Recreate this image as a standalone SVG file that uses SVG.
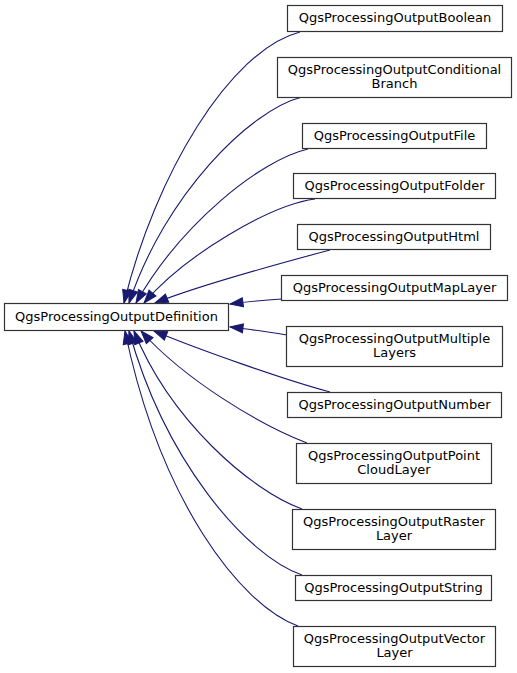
<svg xmlns="http://www.w3.org/2000/svg" width="517" height="673" viewBox="0 0 517 673">
<style>
.n rect{fill:#ffffff;stroke:#333333;stroke-width:1.2}
.n text{font-family:"DejaVu Sans",sans-serif;font-size:13px;fill:#000000;text-anchor:middle}
.e path{fill:none;stroke:#191970;stroke-width:1.1;marker-end:url(#a)}
</style>
<defs>
<marker id="a" markerWidth="13" markerHeight="9" refX="13" refY="4.5" orient="auto" markerUnits="userSpaceOnUse" overflow="visible">
<path d="M0,0 L13,4.5 L0,9 z" fill="#191970" stroke="#191970" stroke-width="1"/>
</marker>
</defs>
<rect width="517" height="673" fill="#ffffff"/>
<g id="edges" class="e">
<path d="M300,32 C230,50 155,175 124,303"/>
<path d="M302,97 C250,110 165,195 129,303"/>
<path d="M308,149 C260,160 180,225 136,303"/>
<path d="M315,199 C270,205 185,255 144,303"/>
<path d="M330,250 C285,262 200,285 155,303"/>
<path d="M282,299 C265,300 245,302 230,304"/>
<path d="M287,335 C268,332 248,329 230,327"/>
<path d="M330,392 C285,380 200,350 154,331"/>
<path d="M307,443 C260,425 185,380 141,331"/>
<path d="M302,509 C250,490 170,420 134,331"/>
<path d="M302,575 C245,555 165,460 129,331"/>
<path d="M298,626 C240,605 160,500 125,331"/>
</g>
<g id="QgsProcessingOutputDefinition" class="n">
<rect x="4.5" y="303.5" width="224" height="27"/>
<text x="116.5" y="321">QgsProcessingOutputDefinition</text>
</g>
<g id="QgsProcessingOutputBoolean" class="n">
<rect x="287.5" y="5.5" width="215" height="26"/>
<text x="395" y="22">QgsProcessingOutputBoolean</text>
</g>
<g id="QgsProcessingOutputConditionalBranch" class="n">
<rect x="277.5" y="57.5" width="234" height="40"/>
<text x="394.5" y="73.5">QgsProcessingOutputConditional</text>
<text x="394.5" y="87.5">Branch</text>
</g>
<g id="QgsProcessingOutputFile" class="n">
<rect x="302.5" y="123.5" width="184" height="25"/>
<text x="394.5" y="140">QgsProcessingOutputFile</text>
</g>
<g id="QgsProcessingOutputFolder" class="n">
<rect x="293.5" y="173.5" width="202" height="25"/>
<text x="394.5" y="190">QgsProcessingOutputFolder</text>
</g>
<g id="QgsProcessingOutputHtml" class="n">
<rect x="297.5" y="224.5" width="193" height="25"/>
<text x="394" y="241">QgsProcessingOutputHtml</text>
</g>
<g id="QgsProcessingOutputMapLayer" class="n">
<rect x="281.5" y="275.5" width="226" height="25"/>
<text x="394.5" y="292">QgsProcessingOutputMapLayer</text>
</g>
<g id="QgsProcessingOutputMultipleLayers" class="n">
<rect x="286.5" y="326.5" width="216" height="40"/>
<text x="394.5" y="342.5">QgsProcessingOutputMultiple</text>
<text x="394.5" y="356.5">Layers</text>
</g>
<g id="QgsProcessingOutputNumber" class="n">
<rect x="287.5" y="392.5" width="214" height="25"/>
<text x="394.5" y="409">QgsProcessingOutputNumber</text>
</g>
<g id="QgsProcessingOutputPointCloudLayer" class="n">
<rect x="296.5" y="443.5" width="195" height="40"/>
<text x="394" y="459.5">QgsProcessingOutputPoint</text>
<text x="394" y="473.5">CloudLayer</text>
</g>
<g id="QgsProcessingOutputRasterLayer" class="n">
<rect x="292.5" y="509.5" width="203" height="40"/>
<text x="394" y="525.5">QgsProcessingOutputRaster</text>
<text x="394" y="539.5">Layer</text>
</g>
<g id="QgsProcessingOutputString" class="n">
<rect x="295.5" y="575.5" width="196" height="25"/>
<text x="393.5" y="592">QgsProcessingOutputString</text>
</g>
<g id="QgsProcessingOutputVectorLayer" class="n">
<rect x="293.5" y="626.5" width="202" height="40"/>
<text x="394.5" y="642.5">QgsProcessingOutputVector</text>
<text x="394.5" y="656.5">Layer</text>
</g>
</svg>
